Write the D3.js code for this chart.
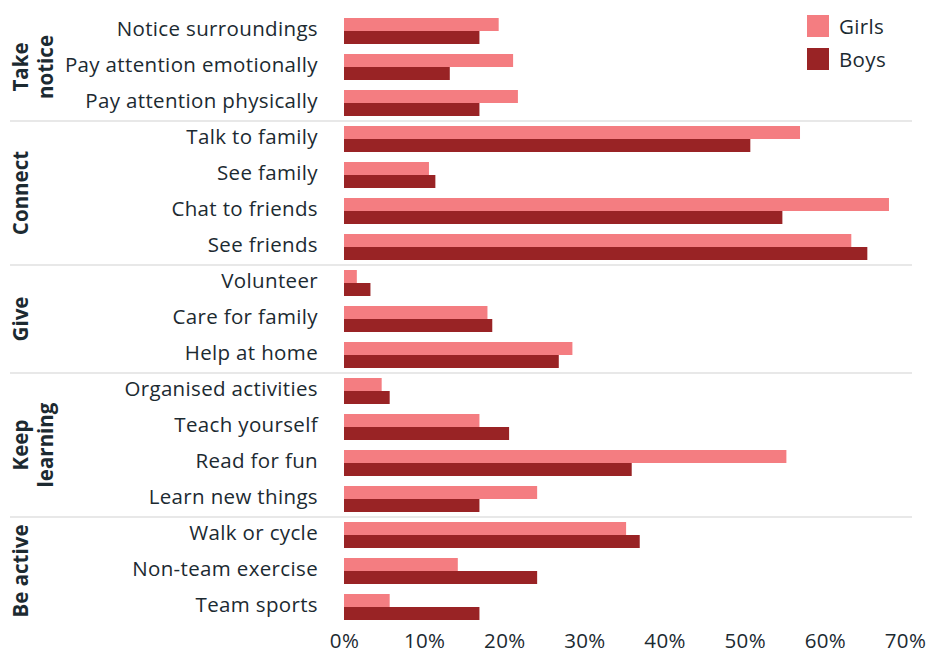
<!DOCTYPE html>
<html>
<head>
<meta charset="utf-8">
<script src="https://cdn.jsdelivr.net/npm/d3@7"></script>
<style>
  html, body { margin: 0; padding: 0; background: #fff; }
  svg { display: block; }
  text { font-family: "Open Sans", Roboto, sans-serif; }
</style>
</head>
<body>
<svg id="chart" width="929" height="658"></svg>
<script>
// ---- Data ----
const groups = ["Take notice", "Connect", "Give", "Keep learning", "Be active"];
const groupLines = [["Take", "notice"], ["Connect"], ["Give"], ["Keep", "learning"], ["Be active"]];
const groupOf = [0, 0, 0, 1, 1, 1, 1, 2, 2, 2, 3, 3, 3, 3, 4, 4, 4];
const categories = [
  "Notice surroundings", "Pay attention emotionally", "Pay attention physically",
  "Talk to family", "See family", "Chat to friends", "See friends",
  "Volunteer", "Care for family", "Help at home",
  "Organised activities", "Teach yourself", "Read for fun", "Learn new things",
  "Walk or cycle", "Non-team exercise", "Team sports"
];
const girls = [19.3, 21.1, 21.7, 56.9, 10.6, 68.0, 63.3, 1.6, 17.9, 28.5, 4.7, 16.9, 55.2, 24.1, 35.2, 14.2, 5.7];
const boys  = [16.9, 13.2, 16.9, 50.7, 11.4, 54.7, 65.3, 3.3, 18.5, 26.8, 5.7, 20.6, 35.9, 16.9, 36.9, 24.1, 16.9];
const seriesNames = ["Girls", "Boys"];
const xTicks = [0, 10, 20, 30, 40, 50, 60, 70];

// ---- Styles ----
const colors = { Girls: "#f47d81", Boys: "#992325" };
const textColor = "#1c2a31";
const sepColor = "#e0e0e0";
const fontSize = 20.5;
const spacing = "0.35px";

const svg = d3.select("#chart");

const x = d3.scaleLinear().domain([0, 70]).range([344, 905]);
const y = d3.scaleBand().domain(categories).range([13, 625]).paddingInner(10 / 36).paddingOuter(5 / 36);
const ySub = d3.scaleBand().domain(seriesNames).range([0, y.bandwidth()]);

const rows = categories.map((c, i) => ({ cat: c, Girls: girls[i], Boys: boys[i], g: groupOf[i] }));

// bars
const rowG = svg.append("g").selectAll("g").data(rows).join("g")
  .attr("transform", d => `translate(0,${y(d.cat)})`);
rowG.selectAll("rect").data(d => seriesNames.map(s => ({ s, v: d[s] }))).join("rect")
  .attr("x", x(0))
  .attr("y", d => ySub(d.s))
  .attr("width", d => x(d.v) - x(0))
  .attr("height", ySub.bandwidth())
  .attr("fill", d => colors[d.s]);

// category labels
svg.append("g").selectAll("text").data(categories).join("text")
  .attr("x", 318)
  .attr("y", d => y(d) + y.bandwidth() / 2 - 2.5)
  .attr("dy", "0.35em")
  .attr("text-anchor", "end")
  .attr("font-size", fontSize)
  .attr("letter-spacing", spacing)
  .attr("fill", textColor)
  .text(d => d);

// separators between groups
const step = y.step();
const seps = [];
for (let i = 1; i < categories.length; i++) {
  if (groupOf[i] !== groupOf[i - 1]) seps.push(y(categories[i]) - (step - y.bandwidth()) / 2);
}
svg.append("g").selectAll("line").data(seps).join("line")
  .attr("x1", 10).attr("x2", 912)
  .attr("y1", d => d).attr("y2", d => d)
  .attr("stroke", sepColor).attr("stroke-width", 1.5);

// group labels
groups.forEach((gname, gi) => {
  const idx = categories.filter((c, i) => groupOf[i] === gi);
  const top = y(idx[0]);
  const bot = y(idx[idx.length - 1]) + y.bandwidth();
  const cy = (top + bot) / 2;
  const lines = groupLines[gi];
  lines.forEach((ln, li) => {
    svg.append("text")
      .attr("transform", `translate(${28 + li * 25},${cy}) rotate(-90)`)
      .attr("text-anchor", "middle")
      .attr("font-size", fontSize)
      .attr("font-weight", "bold")
      .attr("fill", textColor)
      .text(ln);
  });
});

// x axis
const xAxis = d3.axisBottom(x).tickValues(xTicks).tickFormat(d => d + "%").tickSize(0).tickPadding(0);
const axG = svg.append("g").attr("transform", "translate(0,633)").call(xAxis);
axG.select(".domain").remove();
axG.selectAll("text")
  .attr("font-size", fontSize)
  .attr("font-family", "'Open Sans', Roboto, sans-serif")
  .attr("letter-spacing", spacing)
  .attr("fill", textColor)
  .attr("dy", "0.71em");

// legend
const leg = svg.append("g").selectAll("g").data(seriesNames).join("g")
  .attr("transform", (d, i) => `translate(807,${15 + i * 33})`);
leg.append("rect").attr("width", 22).attr("height", 22).attr("fill", d => colors[d]);
leg.append("text").attr("x", 32).attr("y", 11.5).attr("dy", "0.35em")
  .attr("font-size", fontSize).attr("letter-spacing", spacing).attr("fill", textColor).text(d => d);
</script>
</body>
</html>
